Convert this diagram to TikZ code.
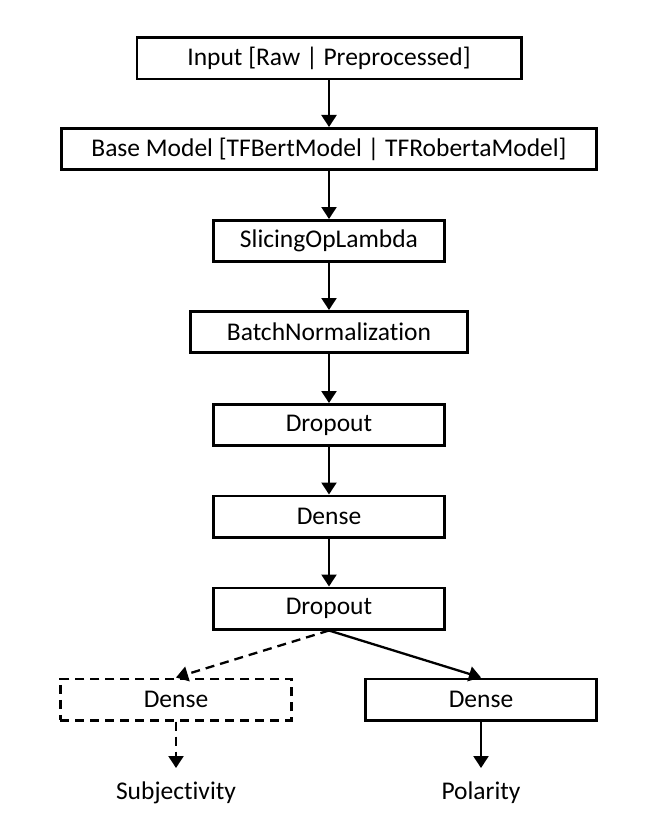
\documentclass[tikz,border=0pt]{standalone}
\usepackage{fontspec}
\setmainfont{Carlito}[Ligatures=NoCommon]
\usetikzlibrary{arrows.meta}
\begin{document}
\begin{tikzpicture}[x=1pt,y=-1pt,
  box/.style={draw,line width=2.7pt,minimum height=41.3pt,minimum width=231.3pt,inner sep=0pt,font=\fontsize{25.5}{30}\selectfont},
  lbl/.style={inner sep=0pt,font=\fontsize{25.5}{30}\selectfont},
  conn/.style={line width=2.3pt,-{Triangle[length=12pt,width=15pt]}},
  dconn/.style={conn,dash pattern=on 9pt off 6pt}]
\useasboundingbox (0,0) rectangle (669,832);
\node[box,minimum width=384.3pt] (inp) at (329,58.5) {Input [Raw | Preprocessed]};
\node[box,minimum width=535.3pt] (base) at (329,149) {Base Model [TFBertModel | TFRobertaModel]};
\node[box] (slice) at (329,241) {SlicingOpLambda};
\node[box,minimum width=277.3pt] (bn) at (329,332) {BatchNormalization};
\node[box] (drop1) at (329,425) {Dropout};
\node[box] (dense) at (329,516.5) {Dense};
\node[box] (drop2) at (329,608.5) {Dropout};
\node[box,dash pattern=on 9pt off 6pt] (dsub) at (176,699.5) {Dense};
\node[box] (dpol) at (481,699.5) {Dense};
\node[lbl] (sub) at (176,793) {Subjectivity};
\node[lbl] (pol) at (481,793) {Polarity};
\coordinate (tipline) at (0,768);
\draw[conn] (inp) -- (base);
\draw[conn] (base) -- (slice);
\draw[conn] (slice) -- (bn);
\draw[conn] (bn) -- (drop1);
\draw[conn] (drop1) -- (dense);
\draw[conn] (dense) -- (drop2);
\draw[dconn] (drop2.south) -- (dsub.north);
\draw[conn] (drop2.south) -- (dpol.north);
\draw[dconn] (dsub.south) -- (dsub.south |- tipline);
\draw[conn] (dpol.south) -- (dpol.south |- tipline);
\end{tikzpicture}
\end{document}
